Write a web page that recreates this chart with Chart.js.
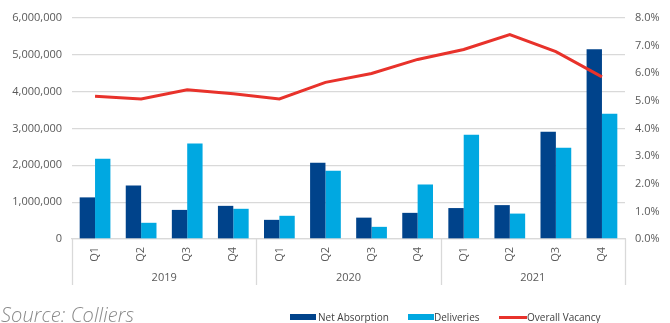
<!DOCTYPE html>
<html>
<head>
<meta charset="utf-8">
<script src="https://cdn.jsdelivr.net/npm/chart.js@4/dist/chart.umd.min.js"></script>
<style>
  html, body { margin: 0; padding: 0; background: #fff; }
  #wrap { position: relative; width: 670px; height: 323px; overflow: hidden; font-family: "Open Sans", sans-serif; }
  #c { position: absolute; left: 0; top: 0; }
  .src { position: absolute; left: 1px; top: 301px; font-size: 20px; font-style: italic; font-weight: 300; color: #8a8a8a; white-space: nowrap; letter-spacing: 0.1px; }
  .lg { position: absolute; top: 310px; font-size: 10px; color: #404040; white-space: nowrap; line-height: 14px; }
  .box { position: absolute; top: 314px; height: 6px; width: 26px; }
  .ln { position: absolute; top: 316px; height: 3px; width: 28px; background: #E8322B; }
</style>
</head>
<body>
<div id="wrap">
  <canvas id="c" width="670" height="323"></canvas>
  <div class="src">Source: Colliers</div>
  <div class="box" style="left:290px;background:#00438B;"></div>
  <div class="lg" style="left:318px;">Net Absorption</div>
  <div class="box" style="left:408px;background:#00A8E1;"></div>
  <div class="lg" style="left:434px;">Deliveries</div>
  <div class="ln" style="left:499px;"></div>
  <div class="lg" style="left:527px;">Overall Vacancy</div>
</div>
<script>
const quarters = ['Q1','Q2','Q3','Q4','Q1','Q2','Q3','Q4','Q1','Q2','Q3','Q4'];
const years = ['2019','2020','2021'];
const netAbsorption = [1130000, 1450000, 790000, 900000, 520000, 2070000, 580000, 710000, 840000, 920000, 2910000, 5150000];
const deliveries = [2180000, 440000, 2590000, 820000, 630000, 1850000, 330000, 1480000, 2830000, 690000, 2480000, 3400000];
const vacancy = [5.17, 5.07, 5.40, 5.26, 5.07, 5.67, 5.99, 6.50, 6.86, 7.40, 6.78, 5.87];
const leftTicks = [0, 1000000, 2000000, 3000000, 4000000, 5000000, 6000000];
const rightTicks = [0, 1, 2, 3, 4, 5, 6, 7, 8];

const FONT = { family: '"Open Sans", sans-serif', size: 11 };
const TICK_COLOR = '#595959';
const GRID = '#d9d9d9';

const yearPlugin = {
  id: 'yearGroups',
  afterDraw(chart) {
    const x = chart.scales.x;
    const ctx = chart.ctx;
    const top = chart.chartArea.bottom;
    const n = quarters.length;
    const per = n / years.length;
    const half = (x.getPixelForValue(1) - x.getPixelForValue(0)) / 2;
    ctx.save();
    ctx.strokeStyle = GRID;
    ctx.lineWidth = 1.3;
    for (let g = 0; g <= years.length; g++) {
      const idx = g * per;
      const px = idx < n ? x.getPixelForValue(idx) - half : x.getPixelForValue(n - 1) + half;
      ctx.beginPath();
      ctx.moveTo(Math.round(px) + 0.5, top);
      ctx.lineTo(Math.round(px) + 0.5, top + 46);
      ctx.stroke();
    }
    ctx.fillStyle = TICK_COLOR;
    ctx.font = '11px "Open Sans", sans-serif';
    ctx.textAlign = 'center';
    ctx.textBaseline = 'middle';
    years.forEach((yr, g) => {
      const a = x.getPixelForValue(g * per) - half;
      const b = x.getPixelForValue(g * per + per - 1) + half;
      ctx.fillText(yr, (a + b) / 2, top + 39);
    });
    ctx.restore();
  }
};

new Chart(document.getElementById('c'), {
  data: {
    labels: quarters,
    datasets: [
      { type: 'line', label: 'Overall Vacancy', data: vacancy, yAxisID: 'y1', borderColor: '#E8322B', borderWidth: 3, pointRadius: 0, tension: 0, order: 0 },
      { type: 'bar', label: 'Net Absorption', data: netAbsorption, yAxisID: 'y', backgroundColor: '#00438B', categoryPercentage: 0.667, barPercentage: 1.0, order: 1 },
      { type: 'bar', label: 'Deliveries', data: deliveries, yAxisID: 'y', backgroundColor: '#00A8E1', categoryPercentage: 0.667, barPercentage: 1.0, order: 1 }
    ]
  },
  options: {
    responsive: false,
    animation: false,
    devicePixelRatio: 1,
    layout: { padding: { top: 18, left: 0, right: 0, bottom: 0 } },
    plugins: { legend: { display: false }, tooltip: { enabled: false } },
    scales: {
      x: {
        grid: { display: false, drawTicks: false },
        border: { display: true, color: GRID, width: 1.3 },
        ticks: { color: TICK_COLOR, font: FONT, minRotation: 90, maxRotation: 90, padding: 8, autoSkip: false },
        afterFit(s) { s.height = 84; }
      },
      y: {
        position: 'left',
        min: 0, max: 6000000,
        afterBuildTicks(s) { s.ticks = leftTicks.map(v => ({ value: v })); },
        grid: { color: GRID, lineWidth: 1.3, drawTicks: false },
        border: { display: false },
        ticks: { color: TICK_COLOR, font: FONT, padding: 10, callback: v => v === 0 ? '0' : v.toLocaleString('en-US') },
        afterFit(s) { s.width = 72; }
      },
      y1: {
        position: 'right',
        min: 0, max: 8,
        afterBuildTicks(s) { s.ticks = rightTicks.map(v => ({ value: v })); },
        grid: { display: false, drawTicks: false },
        border: { display: false },
        ticks: { color: TICK_COLOR, font: FONT, padding: 10, callback: v => v.toFixed(1) + '%' },
        afterFit(s) { s.width = 45; }
      }
    }
  },
  plugins: [yearPlugin]
});
</script>
</body>
</html>
